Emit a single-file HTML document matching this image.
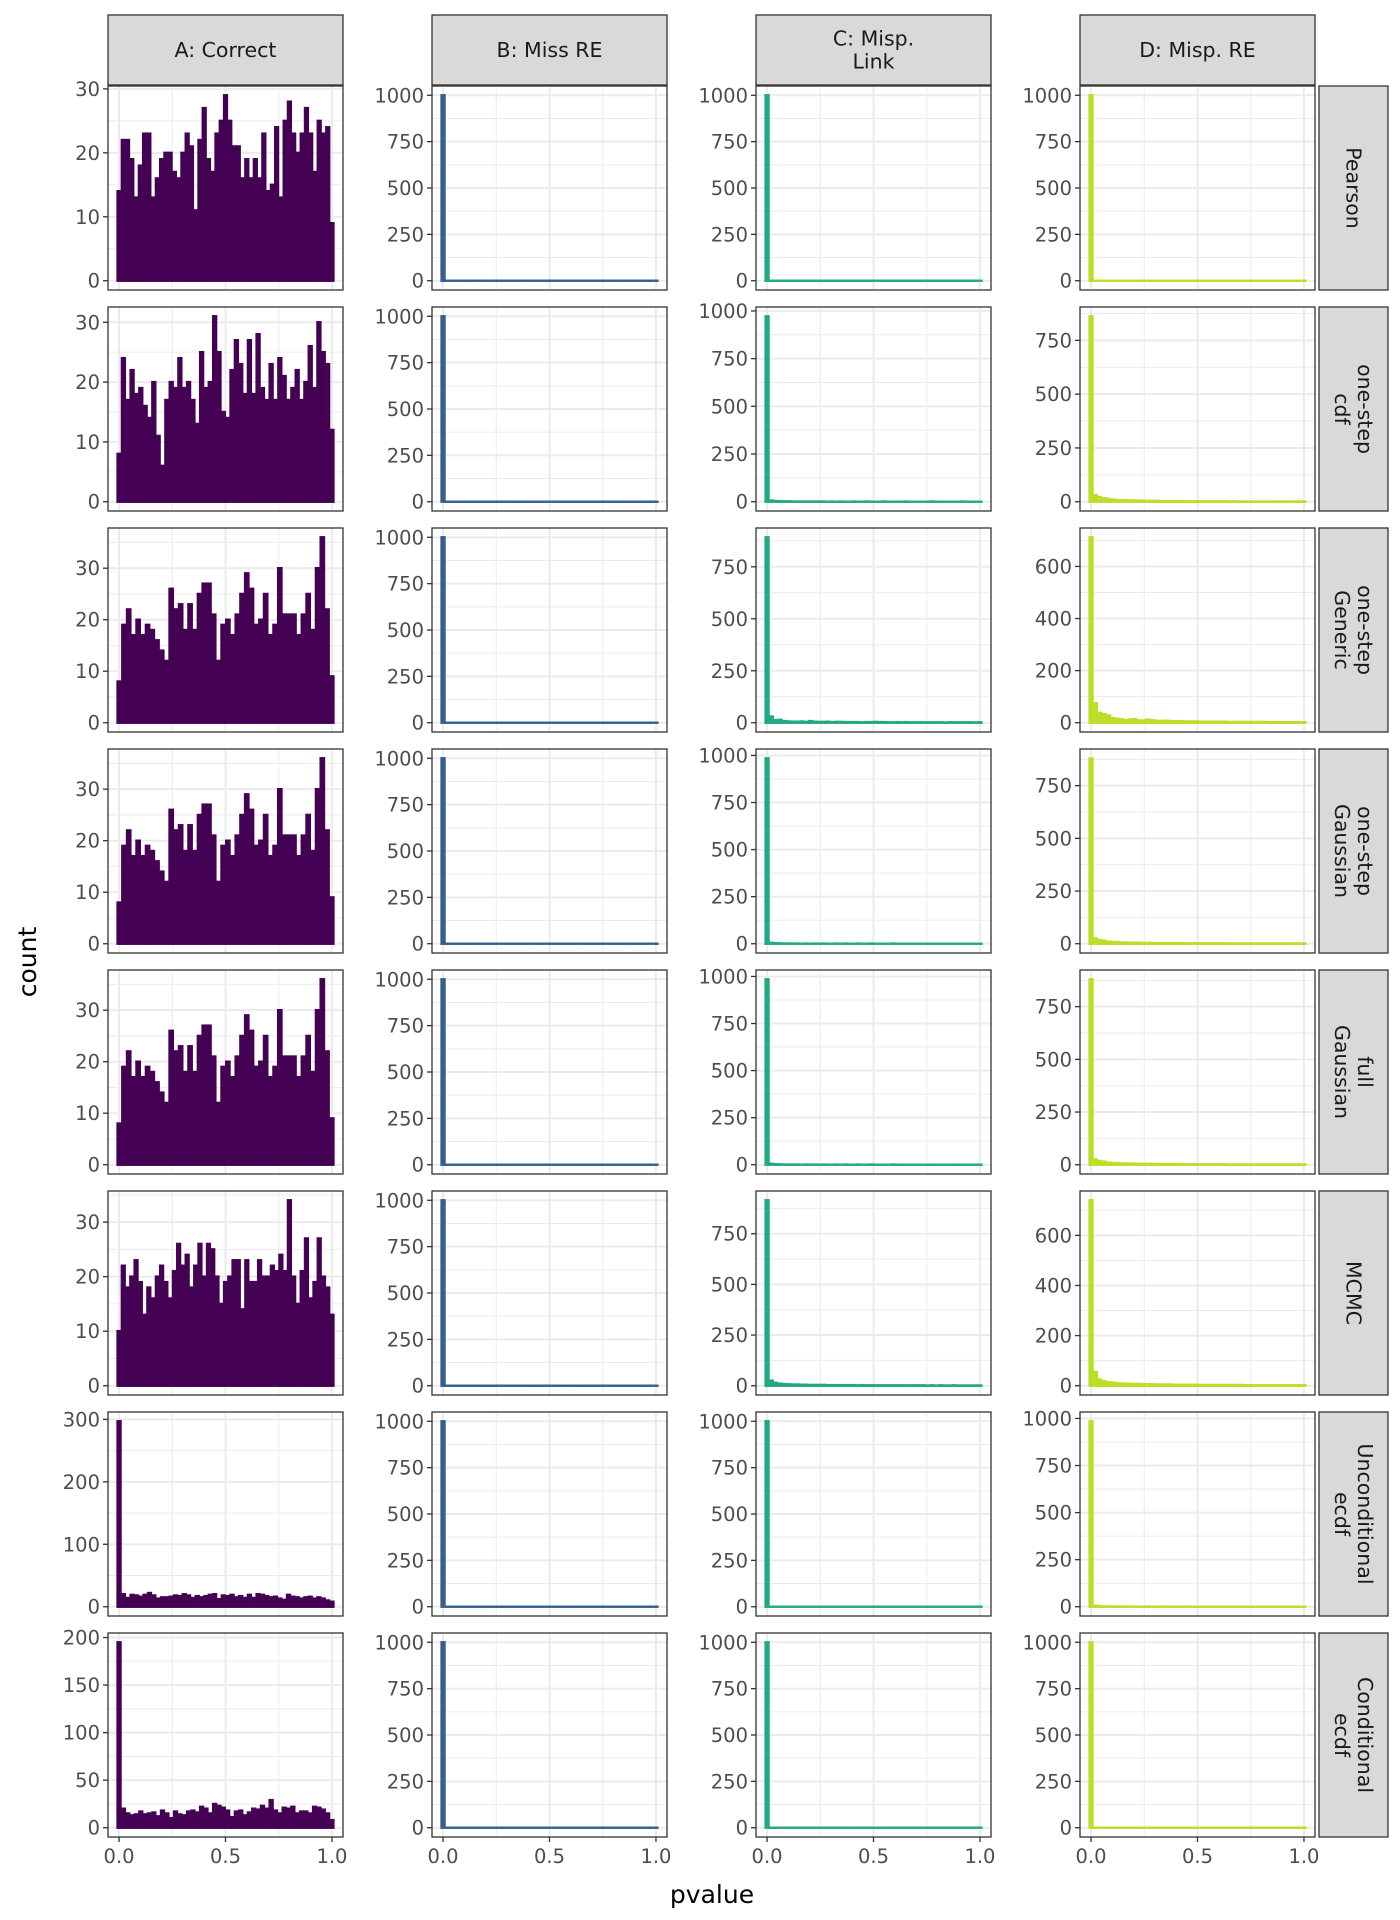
<!DOCTYPE html>
<html><head><meta charset="utf-8">
<style>
html,body{margin:0;padding:0;background:#fff;}
svg{display:block;font-family:"DejaVu Sans","Liberation Sans",sans-serif;}
</style></head>
<body>
<svg id="chart" width="1400" height="1920" viewBox="0 0 1400 1920" xmlns="http://www.w3.org/2000/svg"></svg>
<script>
// ---- data ----
const colNames = ["A: Correct", "B: Miss RE", "C: Misp.|Link", "D: Misp. RE"];
const rowNames = ["Pearson", "one-step|cdf", "one-step|Generic", "one-step|Gaussian", "full|Gaussian", "MCMC", "Unconditional|ecdf", "Conditional|ecdf"];
const colColors = ["#440154", "#35608D", "#22A884", "#BBDF27"];
const xTicks = [0, 0.5, 1];
const xTickLabels = ["0.0", "0.5", "1.0"];

const A1 = [14,22,22,19,13,18,23,23,13,16,19,20,20,17,16,20,23,21,11,22,27,19,17,23,25,29,25,21,21,16,19,16,19,16,23,14,15,24,13,25,28,23,20,23,27,23,17,25,23,24,9];
const A2 = [8,24,17,22,18,19,16,14,20,11,6,17,20,19,24,19,20,17,13,25,19,20,31,25,15,14,22,27,23,18,27,18,28,19,17,23,17,24,21,17,19,22,17,20,26,19,30,25,23,12];
const A3 = [8,19,22,17,20,17,19,18,16,14,12,26,22,23,18,23,18,25,27,27,21,12,19,20,17,21,25,29,26,19,20,25,17,19,30,21,21,21,17,21,25,18,30,36,22,9];
const A4 = [8,19,22,17,20,17,19,18,16,14,12,26,22,23,18,23,18,25,27,27,21,12,19,20,17,21,25,29,26,19,20,25,17,19,30,21,21,21,17,21,25,18,30,36,22,9];
const A5 = [8,19,22,17,20,17,19,18,16,14,12,26,22,23,18,23,18,25,27,27,21,12,19,20,17,21,25,29,26,19,20,25,17,19,30,21,21,21,17,21,25,18,30,36,22,9];
const A6 = [10,22,18,20,23,19,13,18,16,20,22,19,16,21,26,22,24,18,22,26,20,26,25,20,15,19,20,23,23,14,23,19,19,23,20,20,22,21,24,21,34,20,15,21,27,16,19,27,20,18,13];
const A7 = [297,20,14,19,18,16,19,22,18,13,15,15,16,18,17,20,18,14,17,15,17,19,20,12,18,17,19,15,17,14,19,14,20,19,17,15,16,13,11,19,16,15,13,15,16,13,15,13,10,8];
const A8 = [195,20,15,13,14,17,14,15,16,12,18,15,10,17,14,13,17,18,16,22,20,15,25,23,21,18,11,17,18,13,16,20,19,23,20,29,18,15,21,20,22,15,17,17,15,22,21,19,15,8];

const B1 = [1000,0,0,0,0,0,0,0,0,0,0,0,0,0,0,0,0,0,0,0,0,0,0,0,0,0,0,0,0,0,0,0,0,0,0,0,0,0,0,0,0,0,0,0,0,0,0,0,0,0];
const B2 = [1000,0,0,0,0,0,0,0,0,0,0,0,0,0,0,0,0,0,0,0,0,0,0,0,0,0,0,0,0,0,0,0,0,0,0,0,0,0,0,0,0,0,0,0,0,0,0,0,0,0];
const B3 = [1000,0,0,0,0,0,0,0,0,0,0,0,0,0,0,0,0,0,0,0,0,0,0,0,0,0,0,0,0,0,0,0,0,0,0,0,0,0,0,0,0,0,0,0,0,0,0,0,0,0];
const B4 = [1000,0,0,0,0,0,0,0,0,0,0,0,0,0,0,0,0,0,0,0,0,0,0,0,0,0,0,0,0,0,0,0,0,0,0,0,0,0,0,0,0,0,0,0,0,0,0,0,0,0];
const B5 = [1000,0,0,0,0,0,0,0,0,0,0,0,0,0,0,0,0,0,0,0,0,0,0,0,0,0,0,0,0,0,0,0,0,0,0,0,0,0,0,0,0,0,0,0,0,0,0,0,0,0];
const B6 = [1000,0,0,0,0,0,0,0,0,0,0,0,0,0,0,0,0,0,0,0,0,0,0,0,0,0,0,0,0,0,0,0,0,0,0,0,0,0,0,0,0,0,0,0,0,0,0,0,0,0];
const B7 = [1000,0,0,0,0,0,0,0,0,0,0,0,0,0,0,0,0,0,0,0,0,0,0,0,0,0,0,0,0,0,0,0,0,0,0,0,0,0,0,0,0,0,0,0,0,0,0,0,0,0];
const B8 = [1000,0,0,0,0,0,0,0,0,0,0,0,0,0,0,0,0,0,0,0,0,0,0,0,0,0,0,0,0,0,0,0,0,0,0,0,0,0,0,0,0,0,0,0,0,0,0,0,0,0];

const C1 = [1000,0,0,0,0,0,0,0,0,0,0,0,0,0,0,0,0,0,0,0,0,0,0,0,0,0,0,0,0,0,0,0,0,0,0,0,0,0,0,0,0,0,0,0,0,0,0,0,0,0];
const C2 = [972,6,4,3,2,2,1,1,1,1,1,1,1,1,0,1,0,1,0,0,1,0,0,1,0,0,0,1,0,0,0,0,1,0,0,0,0,0,1,0,0,0,0,0,0,1,0,0,0,0];
const C3 = [892,30,12,14,8,6,5,5,6,4,8,5,4,4,5,3,4,4,3,3,3,3,2,3,3,4,3,3,2,2,3,2,3,2,2,2,2,2,2,2,2,1,2,2,2,2,2,2,1,2];
const C4 = [985,5,3,2,1,1,1,1,0,1,0,1,0,1,0,0,1,0,1,0,0,1,0,0,1,0,0,0,0,1,0,0,0,0,0,0,0,0,0,0,0,0,0,0,0,0,0,0,0,0];
const C5 = [985,5,3,2,1,1,1,1,0,1,0,1,0,1,0,0,1,0,1,0,0,1,0,0,1,0,0,0,0,1,0,0,0,0,0,0,0,0,0,0,0,0,0,0,0,0,0,0,0,0];
const C6 = [915,25,14,10,8,7,6,6,5,5,4,4,4,4,3,3,3,3,3,3,3,2,3,2,2,2,2,2,2,2,2,2,2,2,2,2,2,1,2,1,2,1,1,2,1,1,1,1,1,1];
const C7 = [1000,0,0,0,0,0,0,0,0,0,0,0,0,0,0,0,0,0,0,0,0,0,0,0,0,0,0,0,0,0,0,0,0,0,0,0,0,0,0,0,0,0,0,0,0,0,0,0,0,0];
const C8 = [1000,0,0,0,0,0,0,0,0,0,0,0,0,0,0,0,0,0,0,0,0,0,0,0,0,0,0,0,0,0,0,0,0,0,0,0,0,0,0,0,0,0,0,0,0,0,0,0,0,0];

const D1 = [1000,0,0,0,0,0,0,0,0,0,0,0,0,0,0,0,0,0,0,0,0,0,0,0,0,0,0,0,0,0,0,0,0,0,0,0,0,0,0,0,0,0,0,0,0,0,0,0,0,0];
const D2 = [862,30,22,16,13,10,8,8,7,6,6,5,5,4,4,4,3,3,3,3,3,3,2,2,2,2,2,2,2,2,2,2,1,2,1,1,1,1,1,1,1,1,1,1,1,1,1,1,1,1];
const D3 = [712,75,38,33,28,18,15,13,10,12,14,9,8,12,10,8,7,8,7,6,6,6,5,5,5,4,4,4,4,4,4,4,3,3,3,3,3,3,3,3,3,2,2,2,2,2,2,2,2,2];
const D4 = [880,25,18,14,10,8,8,6,6,5,5,5,4,4,4,3,3,3,3,3,3,2,2,2,2,2,2,2,2,2,2,2,1,1,1,1,1,1,1,1,1,1,1,1,1,1,1,1,1,1];
const D5 = [880,25,18,14,10,8,8,6,6,5,5,5,4,4,4,3,3,3,3,3,3,2,2,2,2,2,2,2,2,2,2,2,1,1,1,1,1,1,1,1,1,1,1,1,1,1,1,1,1,1];
const D6 = [740,55,25,18,14,12,10,9,8,8,7,7,6,6,6,5,5,5,5,4,4,4,4,4,4,3,3,3,3,3,3,3,3,3,3,3,2,2,2,2,2,2,2,2,2,2,2,2,2,2];
const D7 = [985,6,3,2,1,1,1,1,1,0,1,0,0,1,0,0,0,1,0,0,0,0,1,0,0,0,0,0,0,0,0,0,0,0,0,0,0,0,0,0,0,0,0,0,0,0,0,0,0,0];
const D8 = [1000,0,0,0,0,0,0,0,0,0,0,0,0,0,0,0,0,0,0,0,0,0,0,0,0,0,0,0,0,0,0,0,0,0,0,0,0,0,0,0,0,0,0,0,0,0,0,0,0,0];

const panelData = [
  [A1,B1,C1,D1],[A2,B2,C2,D2],[A3,B3,C3,D3],[A4,B4,C4,D4],
  [A5,B5,C5,D5],[A6,B6,C6,D6],[A7,B7,C7,D7],[A8,B8,C8,D8]
];
const yTickSteps = [
  [10,250,250,250],[10,250,250,250],[10,250,250,200],[10,250,250,250],
  [10,250,250,250],[10,250,250,200],[100,250,250,250],[50,250,250,250]
];

// ---- layout ----
const NS = "http://www.w3.org/2000/svg";
const svg = document.getElementById("chart");
const colX = [108, 432, 756, 1080];
const PW = 235, PH = 204;
const rowTop0 = 86, rowPitch = 221;
const stripTop = 15, stripH = 70;
const rStripX = 1319, rStripW = 69;
const XMIN = -0.0519, XMAX = 1.0519;
const BIN_LO = -0.0102, BIN_HI = 1.0102;

function mk(tag, attrs, parent) {
  const e = document.createElementNS(NS, tag);
  for (const k in attrs) e.setAttribute(k, attrs[k]);
  (parent || svg).appendChild(e);
  return e;
}

colNames.forEach((name, c) => {
  const g = mk("g", {});
  
  
  mk("rect", {x: colX[c], y: stripTop, width: PW, height: stripH, fill: "#d9d9d9", stroke: "#333", "stroke-width": 1.3}, g);
  const lines = name.split("|");
  lines.forEach((ln, i) => {
    const t = mk("text", {x: colX[c] + PW / 2, y: stripTop + stripH / 2 + 7 + (i - (lines.length - 1) / 2) * 23, "text-anchor": "middle", "font-size": 20.5, fill: "#1a1a1a"}, g);
    t.textContent = ln;
  });
});

rowNames.forEach((name, r) => {
  const top = rowTop0 + r * rowPitch;
  const g = mk("g", {});
  
  
  mk("rect", {x: rStripX, y: top, width: rStripW, height: PH, fill: "#d9d9d9", stroke: "#333", "stroke-width": 1.3}, g);
  const lines = name.split("|");
  const cx = rStripX + rStripW / 2, cy = top + PH / 2;
  lines.forEach((ln, i) => {
    const off = (i - (lines.length - 1) / 2) * 23;
    const t = mk("text", {x: 0, y: 0, "text-anchor": "middle", "font-size": 20.5, fill: "#1a1a1a",
      transform: `translate(${cx - off},${cy}) rotate(90) translate(0,7)`}, g);
    t.textContent = ln;
  });
});

panelData.forEach((rowArr, r) => {
  const top = rowTop0 + r * rowPitch;
  rowArr.forEach((counts, c) => {
    const left = colX[c];
    const g = mk("g", {});
    
    
    const maxV = Math.max(...counts);
    const y0 = -0.05 * maxV, y1 = 1.05 * maxV;
    const sx = v => left + (v - XMIN) / (XMAX - XMIN) * PW;
    const sy = v => top + PH - (v - y0) / (y1 - y0) * PH;
    mk("rect", {x: left, y: top, width: PW, height: PH, fill: "#fff"}, g);
    const step = yTickSteps[r][c];
    const yt = [];
    for (let v = 0; v <= y1; v += step) yt.push(v);
    for (let v = step / 2; v <= y1; v += step) {
      mk("line", {x1: left, x2: left + PW, y1: sy(v), y2: sy(v), stroke: "#ebebeb", "stroke-width": 1}, g);
    }
    [0.25, 0.75].forEach(v => mk("line", {x1: sx(v), x2: sx(v), y1: top, y2: top + PH, stroke: "#ebebeb", "stroke-width": 1}, g));
    yt.forEach(v => mk("line", {x1: left, x2: left + PW, y1: sy(v), y2: sy(v), stroke: "#ebebeb", "stroke-width": 2}, g));
    xTicks.forEach(v => mk("line", {x1: sx(v), x2: sx(v), y1: top, y2: top + PH, stroke: "#ebebeb", "stroke-width": 2}, g));
    const n = counts.length;
    const bw = (BIN_HI - BIN_LO) / n;
    counts.forEach((v, i) => {
      const xa = sx(BIN_LO + i * bw), xb = sx(BIN_LO + (i + 1) * bw);
      const h = Math.max(sy(0) - sy(v), 0);
      const bar = mk("rect", {x: xa - 0.5, y: sy(v) - 1.2, width: xb - xa + 1, height: h + 2.4, fill: colColors[c]}, g);
      
      
    });
    mk("rect", {x: left, y: top, width: PW, height: PH, fill: "none", stroke: "#333", "stroke-width": 1.3}, g);
    yt.forEach(v => {
      mk("line", {x1: left - 5, x2: left, y1: sy(v), y2: sy(v), stroke: "#333", "stroke-width": 1.3}, g);
      const t = mk("text", {x: left - 8, y: sy(v) + 7, "text-anchor": "end", "font-size": 19.5, fill: "#4d4d4d"}, g);
      t.textContent = String(v);
    });
    if (r === panelData.length - 1) {
      xTicks.forEach((v, i) => {
        mk("line", {x1: sx(v), x2: sx(v), y1: top + PH, y2: top + PH + 5, stroke: "#333", "stroke-width": 1.3}, g);
        const t = mk("text", {x: sx(v), y: top + PH + 26, "text-anchor": "middle", "font-size": 19.5, fill: "#4d4d4d"}, g);
        t.textContent = xTickLabels[i];
      });
    }
  });
});

const xt = mk("text", {x: 712, y: 1903, "text-anchor": "middle", "font-size": 25, fill: "#000"});


xt.textContent = "pvalue";
const ytl = mk("text", {x: 0, y: 0, "text-anchor": "middle", "font-size": 25, fill: "#000", transform: "translate(36,962) rotate(-90)"});


ytl.textContent = "count";
</script>
</body></html>
